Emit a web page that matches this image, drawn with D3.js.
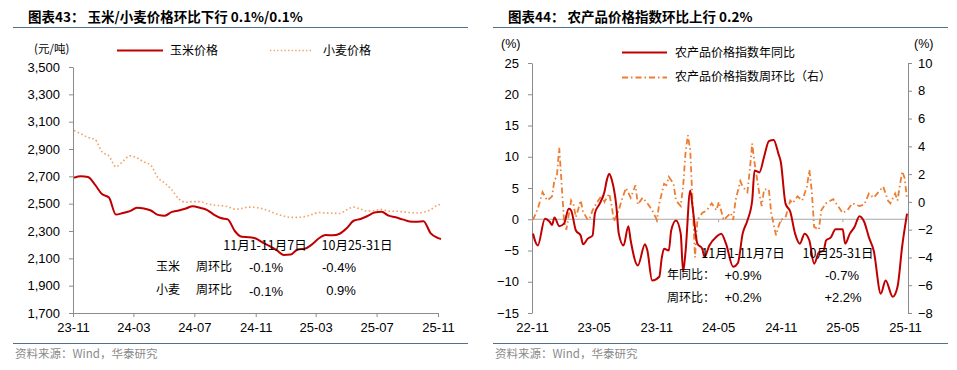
<!DOCTYPE html>
<html>
<head>
<meta charset="utf-8">
<script src="https://cdn.jsdelivr.net/npm/d3@7"></script>
<style>
  body { margin: 0; background: #fff; }
  svg text { font-family: "Liberation Sans", Arial, "Noto Sans CJK SC", sans-serif; }
  .cjk { font-family: "Noto Sans CJK SC", "Liberation Sans", sans-serif; }
</style>
</head>
<body>
<svg id="place" width="957" height="370"></svg>
<script>
// ---- left chart: corn / wheat price, yuan per ton, every two weeks from 2023-11-03
var grainWeeks = [0,2,4,6,8,10,12,14,16,18,20,22,24,26,28,30,32,34,36,38,40,42,44,46,48,50,
  52,54,56,58,60,62,64,66,68,70,72,74,76,78,80,82,84,86,88,90,92,94,96,98,100,102,104,105];
var cornPrice = [2690,2700,2695,2640,2570,2545,2420,2432,2445,2470,2465,2450,2418,2412,2440,2450,
  2465,2482,2470,2455,2420,2395,2385,2300,2258,2255,2245,2215,2190,2160,2125,2128,2165,2170,
  2200,2245,2270,2268,2280,2320,2375,2388,2410,2435,2440,2412,2400,2385,2370,2368,2372,2285,2250,2242];
var wheatPrice = [3035,3010,2985,2970,2880,2850,2770,2810,2850,2835,2805,2780,2690,2650,2600,2535,
  2510,2515,2515,2500,2490,2485,2478,2460,2465,2475,2472,2462,2445,2425,2410,2400,2400,2405,
  2420,2435,2432,2430,2428,2455,2475,2460,2445,2450,2458,2445,2445,2440,2435,2432,2438,2455,2490,2495];
var grainTicks = ["23-11","24-03","24-07","24-11","25-03","25-07","25-11"];

// ---- right chart: farm product price index, weeks from 2022-11-04
var yoyWeeks = [0,1,2,5,7,8,9,11,13,15,16,18,20,21,23,25,26,28,30,31,32,33,35,36,38,40,41,44,47,48,
  50,53,54,55,57,58,60,62,63,64,66,67,69,71,72,74,77,79,81,84,86,88,90,92,93,95,97,99,101,103,104,
  106,108,110,112,114,116,118,120,122,123,125,127,130,131,133,135,137,139,141,143,146,148,151,153,155,157];
var yoyValue = [-2.3,-3.6,-4.2,0.1,-0.4,-0.9,0.3,-1.1,-0.7,1.7,1.4,-1.8,-2.6,-4.0,-3.1,-2.6,1.0,2.5,
  4.4,6.3,7.3,6.4,2.0,-2.3,-4.2,-1.1,-3.4,-7.4,-4.0,-5.0,-9.8,-9.2,-6.3,-4.7,-5.0,-1.8,-0.2,-2.3,
  -8.4,-5.3,4.6,1.9,-3.9,-4.7,-6.0,-4.2,-2.8,-2.3,-3.9,-7.6,-7.0,-2.3,-0.2,3.0,7.8,7.5,10.0,12.5,
  12.7,10.5,9.2,2.5,1.2,-2.3,-3.9,-2.3,-3.4,-7.1,-5.3,-5.0,-3.4,-2.9,-1.6,-1.6,-3.9,-2.3,-1.2,0.5,
  -0.4,-2.9,-5.0,-11.9,-9.8,-12.4,-10.8,-4.2,0.9];
var wowWeeks = [0,2,4,6,8,9,10,11,12,13,14,16,17,18,20,21,23,24,25,27,29,30,32,33,34,36,37,39,41,43,
  44,46,48,50,52,53,55,56,57,59,60,62,63,64,65,66,67,68,69,71,73,75,77,78,80,83,84,85,87,88,90,91,
  92,93,95,96,97,99,100,102,103,104,106,108,109,111,113,115,116,117,118,120,121,123,125,126,128,
  130,132,134,137,139,141,143,145,147,149,150,152,153,154,155,156,157];
var wowValue = [-1.3,-0.5,0.7,0.1,0.4,1.6,1.8,3.9,1.3,-1.3,-2.0,0.1,-0.2,-1.1,0.1,-0.7,-1.3,-1.1,-0.6,
  0.0,0.5,0.0,0.6,-0.3,-1.4,-0.6,0.0,1.0,0.3,1.2,-0.2,0.3,-0.1,-0.6,-1.3,-0.1,1.3,1.2,1.8,1.3,0.1,
  -0.3,1.1,3.5,4.8,3.7,-0.1,-4.0,-1.3,-0.8,-0.6,-0.1,-0.6,0.0,-1.3,-0.8,-1.3,0.1,1.5,1.1,0.7,2.3,
  4.2,2.8,0.6,-0.3,0.9,0.9,-0.8,-2.4,-1.8,-1.3,-1.1,0.1,-0.1,0.4,0.1,1.1,2.3,0.8,-1.8,-2.0,-0.6,
  -0.1,0.1,0.2,-0.3,-0.8,-0.6,-0.1,-0.3,-0.2,0.6,0.3,0.7,1.1,0.1,-0.1,0.6,0.1,1.2,2.2,1.7,0.2];
var indexTicks = ["22-11","23-05","23-11","24-05","24-11","25-05","25-11"];

var svg = d3.select("#place");
var parseTick = d3.timeParse("%y-%m");
var weekDate = function(start, w) { return d3.timeDay.offset(start, w * 7); };

var styleAxis = function(g) {
  g.select(".domain").attr("stroke", "#8c8c8c");
  g.selectAll(".tick line").attr("stroke", "#8c8c8c");
  g.selectAll(".tick text").attr("fill", "#000").style("font-size", "13px")
    .style("font-family", "'Liberation Sans', Arial, sans-serif");
};

// frame: titles, rules, sources
var frame = function(x0, x1, title) {
  svg.append("text").attr("class", "cjk").attr("x", x0 + 15).attr("y", 22)
    .style("font-size", "13.5px").style("font-weight", "bold").text(title);
  svg.append("line").attr("x1", x0).attr("x2", x1).attr("y1", 27.5).attr("y2", 27.5)
    .attr("stroke", "#50708f").attr("stroke-width", 1);
  svg.append("line").attr("x1", x0).attr("x2", x1).attr("y1", 343.5).attr("y2", 343.5)
    .attr("stroke", "#50708f").attr("stroke-width", 1);
  svg.append("text").attr("class", "cjk").attr("x", x0 + 2).attr("y", 358)
    .attr("fill", "#8a8a8a").style("font-size", "11.5px").text("资料来源：Wind，华泰研究");
};
frame(13, 468, "图表43：  玉米/小麦价格环比下行 0.1%/0.1%");
frame(493, 948, "图表44：  农产品价格指数环比上行 0.2%");

// ================= left chart =================
var grainStart = new Date(2023, 10, 3);
var xGrain = d3.scaleTime().domain([new Date(2023, 10, 1), new Date(2025, 10, 1)]).range([73, 438]);
var yGrain = d3.scaleLinear().domain([1700, 3500]).range([313, 67]);

svg.append("g").attr("transform", "translate(73,0)")
  .call(d3.axisLeft(yGrain).tickValues(d3.range(1700, 3501, 200)).tickFormat(d3.format(","))
    .tickSize(4).tickSizeOuter(0).tickPadding(9))
  .call(styleAxis);
svg.append("g").attr("transform", "translate(0,313)")
  .call(d3.axisBottom(xGrain).tickValues(grainTicks.map(parseTick)).tickFormat(d3.timeFormat("%y-%m"))
    .tickSize(4).tickSizeOuter(0).tickPadding(6))
  .call(styleAxis);

var grainLine = function(vals) {
  return d3.line().curve(d3.curveMonotoneX)
    .x(function(d, i) { return xGrain(weekDate(grainStart, grainWeeks[i])); })
    .y(function(d) { return yGrain(d); })(vals);
};
svg.append("path").attr("d", grainLine(wheatPrice)).attr("fill", "none")
  .attr("stroke", "#f0a46a").attr("stroke-width", 1.6).attr("stroke-dasharray", "1.6,2.4");
svg.append("path").attr("d", grainLine(cornPrice)).attr("fill", "none")
  .attr("stroke", "#c00000").attr("stroke-width", 2);

svg.append("text").attr("class", "cjk").attr("x", 34).attr("y", 53).style("font-size", "11.5px").text("(元/吨)");
svg.append("line").attr("x1", 117).attr("x2", 163).attr("y1", 50.5).attr("y2", 50.5)
  .attr("stroke", "#c00000").attr("stroke-width", 2);
svg.append("text").attr("class", "cjk").attr("x", 170).attr("y", 55).style("font-size", "12px").text("玉米价格");
svg.append("line").attr("x1", 270).attr("x2", 313).attr("y1", 50.5).attr("y2", 50.5)
  .attr("stroke", "#f0a46a").attr("stroke-width", 1.4).attr("stroke-dasharray", "1.4,2.2");
svg.append("text").attr("class", "cjk").attr("x", 323).attr("y", 55).style("font-size", "12px").text("小麦价格");

var note = function(x, y, t, anchor, size) {
  svg.append("text").attr("class", "cjk").attr("x", x).attr("y", y)
    .attr("text-anchor", anchor || "start").style("font-size", (size || 12) + "px").text(t);
};
var num = function(x, y, t) {
  svg.append("text").attr("x", x).attr("y", y).attr("text-anchor", "middle")
    .style("font-size", "13px").text(t);
};
note(265, 250, "11月1-11月7日", "middle", 12.5);
note(357, 250, "10月25-31日", "middle", 12.5);
note(156, 271, "玉米");
note(196, 271, "周环比");
num(266, 272, "-0.1%");
num(339, 272, "-0.4%");
note(156, 294, "小麦");
note(196, 294, "周环比");
num(266, 296, "-0.1%");
num(341, 295, "0.9%");

// ================= right chart =================
var indexStart = new Date(2022, 10, 4);
var xIndex = d3.scaleTime().domain([new Date(2022, 10, 1), new Date(2025, 10, 1)]).range([532, 905]);
var yLeft = d3.scaleLinear().domain([-15, 25]).range([313, 63]);
var yRight = d3.scaleLinear().domain([-8, 10]).range([313, 63]);

svg.append("g").attr("transform", "translate(532,0)")
  .call(d3.axisLeft(yLeft).tickValues(d3.range(-15, 26, 5)).tickSize(4).tickSizeOuter(0).tickPadding(9))
  .call(styleAxis);
svg.append("g").attr("transform", "translate(908,0)")
  .call(d3.axisRight(yRight).tickValues(d3.range(-8, 11, 2)).tickSize(4).tickSizeOuter(0).tickPadding(6))
  .call(styleAxis);
// zero line with ticks
svg.append("g").attr("transform", "translate(0," + yLeft(0) + ")")
  .call(d3.axisBottom(xIndex).tickValues(indexTicks.map(parseTick)).tickFormat("").tickSize(3).tickSizeOuter(0))
  .call(function(g) {
    g.select(".domain").attr("stroke", "#a6a6a6").attr("d", "M532,0H908");
    g.selectAll(".tick line").attr("stroke", "#a6a6a6");
  });
// bottom labels
svg.append("g").attr("transform", "translate(0,313)")
  .call(d3.axisBottom(xIndex).tickValues(indexTicks.map(parseTick)).tickFormat(d3.timeFormat("%y-%m"))
    .tickSize(0).tickPadding(10))
  .call(styleAxis)
  .call(function(g) { g.select(".domain").remove(); });

var wowLine = d3.line()
  .x(function(d, i) { return xIndex(weekDate(indexStart, wowWeeks[i])); })
  .y(function(d) { return yRight(d); });
var yoyLine = d3.line().curve(d3.curveMonotoneX)
  .x(function(d, i) { return xIndex(weekDate(indexStart, yoyWeeks[i])); })
  .y(function(d) { return yLeft(d); });
svg.append("path").attr("d", wowLine(wowValue)).attr("fill", "none")
  .attr("stroke", "#ed7d31").attr("stroke-width", 1.8).attr("stroke-dasharray", "6,3,1.5,3");
svg.append("path").attr("d", yoyLine(yoyValue)).attr("fill", "none")
  .attr("stroke", "#c00000").attr("stroke-width", 2);

svg.append("text").attr("x", 501).attr("y", 48).style("font-size", "12.5px").text("(%)");
svg.append("text").attr("x", 914).attr("y", 48).style("font-size", "12.5px").text("(%)");
svg.append("line").attr("x1", 622).attr("x2", 667).attr("y1", 52.5).attr("y2", 52.5)
  .attr("stroke", "#c00000").attr("stroke-width", 2);
note(675, 57, "农产品价格指数年同比");
svg.append("line").attr("x1", 622).attr("x2", 667).attr("y1", 77.5).attr("y2", 77.5)
  .attr("stroke", "#ed7d31").attr("stroke-width", 1.8).attr("stroke-dasharray", "6,3,1.5,3");
note(675, 81, "农产品价格指数周环比（右）");

note(743, 258, "11月1-11月7日", "middle", 12.5);
note(838, 258, "10月25-31日", "middle", 12.5);
note(667, 279, "年同比：");
num(743, 280, "+0.9%");
num(842, 280, "-0.7%");
note(667, 302, "周环比：");
num(743, 302, "+0.2%");
num(843, 302, "+2.2%");
</script>
</body>
</html>
